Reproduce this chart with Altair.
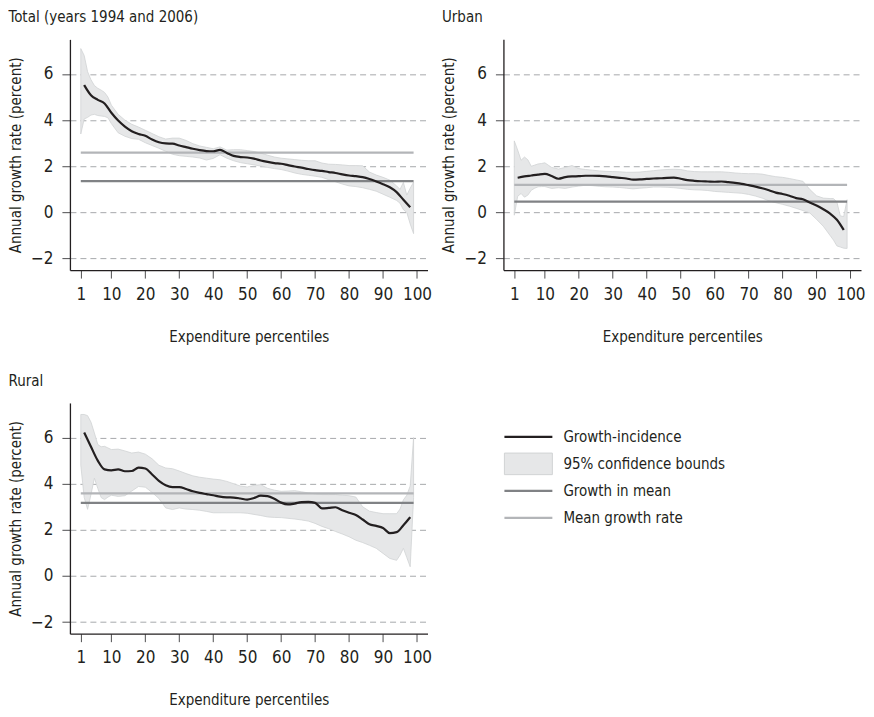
import altair as alt
import pandas as pd

FONT = "DejaVu Sans Condensed, sans-serif"
FS = 15
FS_TICK = 17
DARK = "#231f20"
TICK = "#4d4d4f"
BAND_FILL = "#e6e7e8"
BAND_STROKE = "#d1d3d4"
GROWTH_IN_MEAN = "#808285"
MEAN_GROWTH_RATE = "#b3b5b8"
GRID = "#a7a9ac"

X_TICKS = [1, 10, 20, 30, 40, 50, 60, 70, 80, 90, 100]
Y_TICKS = [-2, 0, 2, 4, 6]
X_DOMAIN = [-2.2, 103.1]
Y_DOMAIN = [-2.5, 7.5]
MEAN_START = 1
MEAN_END = 99

LINE_P = [2, 4, 6, 8, 10, 12, 14, 16, 18, 20, 22, 24, 26, 28, 30, 32, 34, 36, 38, 40,
          42, 44, 46, 48, 50, 52, 54, 56, 58, 60, 62, 64, 66, 68, 70, 72, 74, 76, 78, 80,
          82, 84, 86, 88, 90, 92, 94, 96, 98]
BAND_P = [1, 2, 3, 4, 5, 6, 7, 8, 9, 10, 12, 14, 16, 18, 20, 22, 24, 26, 28, 30, 32, 34,
          36, 38, 40, 42, 44, 46, 48, 50, 52, 54, 56, 58, 60, 62, 64, 66, 68, 70, 72, 74,
          76, 78, 80, 82, 84, 86, 88, 90, 92, 94, 95, 96, 97, 98, 99]

# Total
TOTAL_LINE = [5.52, 5.08, 4.88, 4.72, 4.32, 3.98, 3.72, 3.52, 3.40, 3.32, 3.16, 3.04, 2.99,
              2.98, 2.90, 2.83, 2.76, 2.70, 2.66, 2.65, 2.71, 2.58, 2.45, 2.40, 2.38, 2.33,
              2.25, 2.19, 2.14, 2.11, 2.05, 1.99, 1.94, 1.88, 1.83, 1.80, 1.75, 1.71, 1.65,
              1.60, 1.57, 1.53, 1.45, 1.34, 1.22, 1.09, 0.88, 0.55, 0.22]
TOTAL_HI = [7.1, 6.8, 6.1, 5.75, 5.5, 5.38, 5.3, 5.2, 5.0, 4.65, 4.25, 4.0, 3.82, 3.7, 3.56,
            3.42, 3.28, 3.18, 3.22, 3.22, 3.12, 2.98, 2.88, 2.82, 2.76, 2.84, 2.7, 2.72,
            2.72, 2.68, 2.64, 2.57, 2.48, 2.40, 2.35, 2.32, 2.29, 2.26, 2.24, 2.24, 2.14,
            2.09, 2.08, 2.06, 2.03, 2.03, 2.02, 1.75, 1.62, 1.52, 1.40, 1.15, 1.0, 1.3,
            0.75, 1.05, 1.31]
TOTAL_LO = [3.4, 4.05, 4.12, 4.22, 4.25, 4.2, 4.18, 4.16, 4.1, 3.85, 3.45, 3.3, 3.2, 3.17,
            3.02, 2.9, 2.78, 2.65, 2.52, 2.46, 2.43, 2.4, 2.36, 2.27, 2.34, 2.5, 2.35, 2.24,
            2.16, 2.11, 2.06, 2.01, 1.95, 1.9, 1.86, 1.79, 1.71, 1.65, 1.61, 1.57, 1.52,
            1.42, 1.33, 1.23, 1.15, 1.12, 1.07, 1.0, 0.92, 0.79, 0.66, 0.52, 0.4, 0.12,
            0.0, -0.5, -0.92]
TOTAL_GROWTH_IN_MEAN = 1.36
TOTAL_MEAN_GROWTH_RATE = 2.59

# Urban
URBAN_LINE = [1.50, 1.56, 1.60, 1.64, 1.67, 1.58, 1.46, 1.53, 1.56, 1.57, 1.59, 1.59, 1.58,
              1.56, 1.53, 1.50, 1.47, 1.42, 1.43, 1.45, 1.47, 1.48, 1.50, 1.51, 1.46, 1.40,
              1.37, 1.35, 1.34, 1.33, 1.34, 1.31, 1.28, 1.24, 1.18, 1.12, 1.05, 0.96, 0.86,
              0.80, 0.72, 0.62, 0.57, 0.43, 0.30, 0.14, -0.05, -0.32, -0.76]
URBAN_HI = [3.1, 2.7, 2.26, 2.4, 2.28, 2.0, 2.05, 2.1, 2.12, 2.15, 1.95, 1.88, 1.95, 2.03,
            1.9, 1.86, 1.83, 1.8, 1.78, 1.77, 1.76, 1.74, 1.74, 1.75, 1.78, 1.81, 1.84,
            1.86, 1.87, 1.86, 1.8, 1.77, 1.76, 1.76, 1.76, 1.76, 1.74, 1.71, 1.69, 1.68,
            1.68, 1.66, 1.6, 1.55, 1.52, 1.47, 1.41, 1.35, 1.0, 0.72, 0.62, 0.6, 0.6, 0.45,
            -0.15, -0.18, 0.55]
URBAN_LO = [-0.12, 0.7, 0.82, 0.66, 0.75, 0.96, 1.05, 1.11, 1.12, 1.12, 1.04, 1.07, 1.04,
            1.1, 1.14, 1.18, 1.16, 1.13, 1.11, 1.1, 1.08, 1.05, 1.02, 1.05, 1.07, 1.1, 1.1,
            1.09, 1.07, 1.04, 1.0, 0.98, 0.97, 0.95, 0.91, 0.89, 0.87, 0.85, 0.83, 0.78,
            0.71, 0.62, 0.5, 0.42, 0.35, 0.27, 0.18, 0.08, -0.02, -0.3, -0.6, -1.0, -1.2,
            -1.45, -1.5, -1.55, -1.56]
URBAN_GROWTH_IN_MEAN = 0.47
URBAN_MEAN_GROWTH_RATE = 1.19

# Rural
RURAL_LINE = [6.22, 5.6, 5.0, 4.62, 4.58, 4.62, 4.54, 4.55, 4.7, 4.66, 4.4, 4.12, 3.93,
              3.85, 3.85, 3.77, 3.67, 3.6, 3.55, 3.5, 3.44, 3.41, 3.4, 3.36, 3.31, 3.38,
              3.48, 3.46, 3.35, 3.18, 3.1, 3.14, 3.2, 3.21, 3.17, 2.93, 2.95, 2.98, 2.85,
              2.74, 2.64, 2.45, 2.24, 2.17, 2.08, 1.86, 1.9, 2.2, 2.55]
RURAL_HI = [7.0, 7.0, 6.95, 6.67, 6.2, 5.7, 5.6, 5.62, 5.55, 5.48, 5.5, 5.42, 5.33, 5.37,
            5.28, 5.08, 4.8, 4.68, 4.65, 4.55, 4.44, 4.34, 4.28, 4.24, 4.2, 4.17, 4.1, 4.0,
            3.9, 3.86, 3.93, 3.96, 3.8, 3.72, 3.67, 3.68, 3.7, 3.65, 3.6, 3.56, 3.53, 3.53,
            3.53, 3.5, 3.48, 3.42, 3.0, 2.81, 2.75, 2.7, 2.7, 2.7, 2.9, 3.3, 3.5, 3.9, 6.0]
RURAL_LO = [4.8, 3.4, 2.89, 3.53, 4.24, 3.8, 3.4, 3.31, 3.42, 3.5, 3.45, 3.48, 3.68, 3.88,
            3.85, 3.62, 3.36, 2.95, 2.88, 2.95, 2.9, 2.88, 2.85, 2.8, 2.74, 2.74, 2.74,
            2.74, 2.74, 2.72, 2.67, 2.62, 2.56, 2.54, 2.53, 2.5, 2.47, 2.43, 2.38, 2.28,
            2.15, 2.05, 1.93, 1.82, 1.7, 1.55, 1.45, 1.33, 1.2, 0.98, 0.76, 0.68, 0.9, 1.2,
            0.8, 0.4, 3.4]
RURAL_GROWTH_IN_MEAN = 3.17
RURAL_MEAN_GROWTH_RATE = 3.58

LEGEND_LABELS = ["Growth-incidence", "95% confidence bounds", "Growth in mean", "Mean growth rate"]
LEGEND_KINDS = ["line", "band", "line", "line"]
LEGEND_COLORS = [DARK, BAND_FILL, GROWTH_IN_MEAN, MEAN_GROWTH_RATE]
MEAN_KINDS = ["Growth in mean", "Mean growth rate"]
MEAN_COLORS = [GROWTH_IN_MEAN, MEAN_GROWTH_RATE]

PANEL_W = 358
PANEL_H = 231

XS = alt.Scale(domain=X_DOMAIN, nice=False, zero=False)
YS = alt.Scale(domain=Y_DOMAIN, nice=False, zero=False)
XAXIS = alt.Axis(values=X_TICKS, title="Expenditure percentiles", grid=False,
                 tickSize=8, tickColor=TICK, labelPadding=8, titlePadding=27,
                 labelFontSize=FS_TICK, domainColor=DARK, domainWidth=1.3)
YAXIS = alt.Axis(values=Y_TICKS, title="Annual growth rate (percent)", grid=True,
                 gridDash=[6, 4], gridColor=GRID, gridWidth=1, tickSize=8,
                 tickColor=TICK, labelPadding=9, titlePadding=7, labelFontSize=FS_TICK,
                 domainColor=DARK, domainWidth=1.3)


def make_panel(title, line_v, hi, lo, g_mean, m_rate):
    line_df = pd.DataFrame({"p": LINE_P, "v": line_v})
    band_df = pd.DataFrame({"p": BAND_P, "hi": hi, "lo": lo})
    mean_df = pd.DataFrame({"kind": MEAN_KINDS, "col": MEAN_COLORS, "v": [g_mean, m_rate],
                            "p0": [MEAN_START, MEAN_START], "p1": [MEAN_END, MEAN_END]})
    band = alt.Chart(band_df).mark_area(
        fill=BAND_FILL, stroke=BAND_STROKE, strokeWidth=0.8, opacity=1
    ).encode(
        x=alt.X("p:Q", scale=XS, axis=XAXIS),
        y=alt.Y("hi:Q", scale=YS, axis=YAXIS),
        y2="lo:Q",
    )
    means = alt.Chart(mean_df).mark_rule(strokeWidth=2.2).encode(
        x=alt.X("p0:Q", scale=XS, axis=XAXIS),
        x2="p1:Q",
        y=alt.Y("v:Q", scale=YS, axis=YAXIS),
        color=alt.Color("col:N", scale=None),
    )
    line = alt.Chart(line_df).mark_line(color=DARK, strokeWidth=2.2, interpolate="monotone").encode(
        x=alt.X("p:Q", scale=XS, axis=XAXIS),
        y=alt.Y("v:Q", scale=YS, axis=YAXIS),
    )
    return alt.layer(band, means, line).properties(
        width=PANEL_W, height=PANEL_H,
        title=alt.TitleParams(title, anchor="start", frame="bounds", fontSize=FS,
                              fontWeight="normal", color=DARK, font=FONT, offset=14),
    )


p_total = make_panel("Total (years 1994 and 2006)", TOTAL_LINE, TOTAL_HI, TOTAL_LO,
                     TOTAL_GROWTH_IN_MEAN, TOTAL_MEAN_GROWTH_RATE)
p_urban = make_panel("Urban", URBAN_LINE, URBAN_HI, URBAN_LO,
                     URBAN_GROWTH_IN_MEAN, URBAN_MEAN_GROWTH_RATE)
p_rural = make_panel("Rural", RURAL_LINE, RURAL_HI, RURAL_LO,
                     RURAL_GROWTH_IN_MEAN, RURAL_MEAN_GROWTH_RATE)

# legend panel
LEG_H = 258
leg_df = pd.DataFrame({
    "label": LEGEND_LABELS,
    "kind": LEGEND_KINDS,
    "col": LEGEND_COLORS,
    "row": list(range(len(LEGEND_LABELS))),
})
leg_df["x0"] = 0.0
leg_df["x1"] = 1.0
leg_df["xt"] = 1.23
leg_df["r0"] = leg_df["row"] - 0.4
leg_df["r1"] = leg_df["row"] + 0.4
lx = alt.Scale(domain=[-1.25, 5.0], nice=False, zero=False)
ly = alt.Scale(domain=[8.30, -1.26], nice=False, zero=False)
leg_color = alt.Color("col:N", scale=None)

leg_lines = alt.Chart(leg_df).transform_filter(alt.datum.kind == "line").mark_rule(
    strokeWidth=2.2).encode(
    x=alt.X("x0:Q", scale=lx, axis=None), x2="x1:Q",
    y=alt.Y("row:Q", scale=ly, axis=None), color=leg_color)
leg_band = alt.Chart(leg_df).transform_filter(alt.datum.kind == "band").mark_rect(
    stroke=BAND_STROKE, strokeWidth=1).encode(
    x=alt.X("x0:Q", scale=lx, axis=None), x2="x1:Q",
    y=alt.Y("r0:Q", scale=ly, axis=None), y2="r1:Q", color=leg_color)
leg_text = alt.Chart(leg_df).mark_text(align="left", baseline="middle", fontSize=FS,
                                       font=FONT, color=DARK).encode(
    x=alt.X("xt:Q", scale=lx, axis=None),
    y=alt.Y("row:Q", scale=ly, axis=None),
    text="label:N")
legend = alt.layer(leg_band, leg_lines, leg_text).properties(width=300, height=LEG_H)

chart = alt.vconcat(
    alt.hconcat(p_total, p_urban, spacing=9),
    alt.hconcat(p_rural, legend, spacing=12),
    spacing=30,
).properties(padding={"left": 0, "top": 2, "right": 0, "bottom": 0}).configure_view(
    stroke=None
).configure_axis(
    labelFont=FONT, titleFont=FONT, titleFontSize=FS,
    titleFontWeight="normal", labelColor=DARK, titleColor=DARK,
).configure_text(font=FONT)

chart.save("out.html", embed_options={"renderer": "svg", "actions": False})
